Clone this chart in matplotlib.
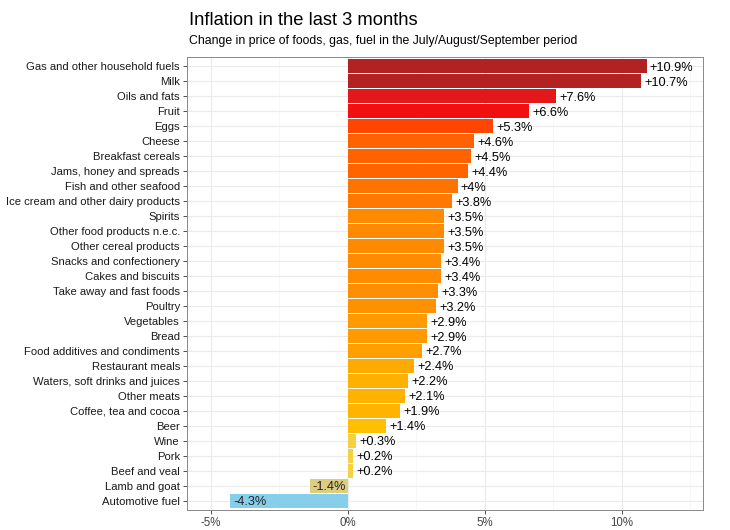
import numpy as np
import matplotlib.pyplot as plt

plt.rcParams['font.family'] = ['Liberation Sans', 'DejaVu Sans']

# Categories and % change, top to bottom
categories = [
    'Gas and other household fuels', 'Milk', 'Oils and fats', 'Fruit', 'Eggs',
    'Cheese', 'Breakfast cereals', 'Jams, honey and spreads', 'Fish and other seafood',
    'Ice cream and other dairy products', 'Spirits', 'Other food products n.e.c.',
    'Other cereal products', 'Snacks and confectionery', 'Cakes and biscuits',
    'Take away and fast foods', 'Poultry', 'Vegetables', 'Bread',
    'Food additives and condiments', 'Restaurant meals', 'Waters, soft drinks and juices',
    'Other meats', 'Coffee, tea and cocoa', 'Beer', 'Wine', 'Pork', 'Beef and veal',
    'Lamb and goat', 'Automotive fuel',
]
values = [10.9, 10.7, 7.6, 6.6, 5.3, 4.6, 4.5, 4.4, 4.0, 3.8, 3.5, 3.5, 3.5, 3.4, 3.4,
          3.3, 3.2, 2.9, 2.9, 2.7, 2.4, 2.2, 2.1, 1.9, 1.4, 0.3, 0.2, 0.2, -1.4, -4.3]

bar_colors = [
    '#b22222', '#b22222', '#e3181a', '#f20f0f', '#ff4500',
    '#ff6200', '#ff6200', '#ff6400', '#ff7300', '#ff7800', '#ff8a00', '#ff8a00',
    '#ff8a00', '#ff8c00', '#ff8c00', '#ff8e00', '#ff9000', '#ff9a00', '#ff9a00',
    '#ffa000', '#ffaa00', '#ffb000', '#ffb200', '#ffb400', '#ffc000', '#f5d040',
    '#f5d040', '#f5d040', '#dccd80', '#87ceeb',
]

y = np.arange(len(categories))[::-1]

fig = plt.figure(figsize=(7.3, 5.3), dpi=100)
ax = fig.add_axes([0.256, 0.038, 0.707, 0.854])

ax.barh(y, values, height=0.9, color=bar_colors, zorder=2)

for yi, v in zip(y, values):
    txt = f'+{v:g}%' if v > 0 else f'{v:g}%'
    x0 = v + 0.12 if v >= 0 else v + 0.1
    ax.text(x0, yi, txt, va='center_baseline', ha='left', fontsize=9.2,
            color='black' if v >= 0 else '#222222', zorder=3)

ax.set_xlim(-5.88, 12.96)
ax.set_ylim(-0.6, len(categories) - 0.4)
ax.set_yticks(y)
ax.set_yticklabels(categories, fontsize=8.1, color='#1a1a1a')
ax.set_xticks([-5, 0, 5, 10])
ax.set_xticklabels(['-5%', '0%', '5%', '10%'], fontsize=8.3, color='#444444')
ax.set_xticks([-2.5, 2.5, 7.5, 12.5], minor=True)
ax.tick_params(axis='both', length=3, color='#333333', width=0.6, pad=2)
ax.tick_params(axis='x', which='minor', length=0)

ax.grid(True, which='major', color='#ebebeb', linewidth=0.8, zorder=0)
ax.grid(True, which='minor', axis='x', color='#f4f4f4', linewidth=0.5, zorder=0)
for s in ax.spines.values():
    s.set_color('#888888')
    s.set_linewidth(0.7)

fig.text(0.259, 0.962, 'Inflation in the last 3 months', fontsize=13.2, color='black', va='center')
fig.text(0.259, 0.923, 'Change in price of foods, gas, fuel in the July/August/September period',
         fontsize=8.8, color='black', va='center')

fig.savefig('out.png', dpi=100)
